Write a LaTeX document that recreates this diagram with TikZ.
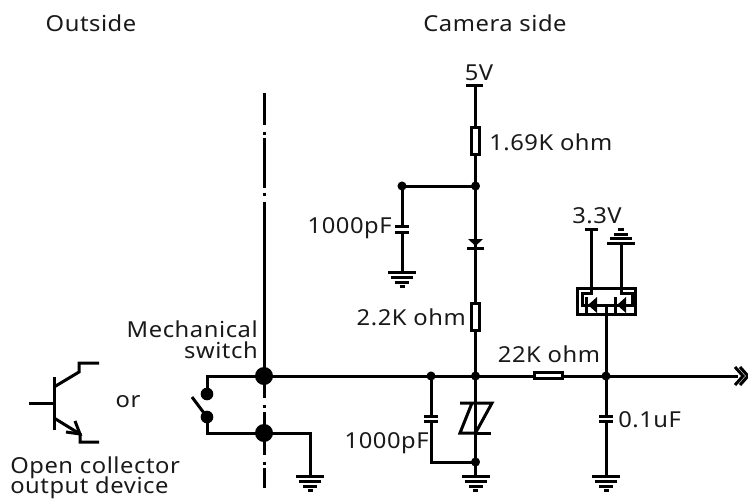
\documentclass[tikz,border=0pt]{standalone}
\usepackage{fontspec}
\setmainfont[FakeStretch=1.08,LetterSpace=2.5]{Noto Sans}
\usetikzlibrary{calc}
\tikzset{
  x=0.75pt,y=-0.75pt,
  wire/.style={line width=2.25pt,line cap=butt,line join=miter},
  dot/.style={circle,fill=black,inner sep=0pt,minimum size=6.8pt},
  swdot/.style={circle,fill=black,inner sep=0pt,minimum size=9.5pt},
  bigdot/.style={circle,fill=black,inner sep=0pt,minimum size=13.5pt},
  res/.style={draw,fill=white,line width=2.25pt,inner sep=0pt},
  lab/.style={inner sep=0pt,font=\fontsize{16.5}{17}\selectfont,text=black!90},
  pics/gnd/.style={code={
    \draw[line width=2.25pt] (-14,0)--(14,0) (-11,5)--(11,5) (-7,10)--(7,10) (-2.5,14)--(2.5,14);
  }}
}
\begin{document}
\begin{tikzpicture}
\useasboundingbox (0,0) rectangle (748,500);
% labels
\node[lab,anchor=base] (outside) at (91,31) {Outside};
\node[lab,anchor=base] (camera) at (495,31) {Camera side};
\node[lab,anchor=base] (v5) at (479,80) {5V};
\node[lab,anchor=base west] (r1l) at (489,150) {1.69K ohm};
\node[lab,anchor=base east] (c1l) at (392,233) {1000pF};
\node[lab,anchor=base] (v33) at (597,223) {3.3V};
\node[lab,anchor=base east] (r2l) at (466,325) {2.2K ohm};
\node[lab,anchor=base east] (mech) at (258,337) {Mechanical};
\node[lab,anchor=base east] (swl) at (258,358) {switch};
\node[lab,anchor=base] (r3l) at (549,362) {22K ohm};
\node[lab,anchor=base] (orl) at (128,407) {or};
\node[lab,anchor=base east] (c2l) at (429,448) {1000pF};
\node[lab,anchor=base west] (c3l) at (618,427) {0.1uF};
\node[lab,anchor=base west] (ocl) at (10,473) {Open collector};
\node[lab,anchor=base west] (odl) at (10,493.5) {output device};
% separator
\draw[wire] (264,93)--(264,125) (264,131.5)--(264,134.5) (264,138)--(264,188)
  (264,192.5)--(264,195.5) (264,202)--(264,398) (264,404.5)--(264,407.5)
  (264,412)--(264,455) (264,461.5)--(264,464.5) (264,468)--(264,488);
% junctions
\node[bigdot] (J1) at (264,376) {};
\node[bigdot] (J2) at (264,433) {};
\node[swdot] (S1) at (207,394) {};
\node[swdot] (S2) at (207,417) {};
\node[dot] (A) at (431,376) {};
\node[dot] (B) at (475.5,376) {};
\node[dot] (C) at (606,376) {};
\node[dot] (D) at (475.5,186) {};
\node[dot] (E) at (402,186) {};
\node[dot] (F) at (475.5,462) {};
\coordinate (endR) at (738,376);
% main wires
\draw[wire] (S1.center)|-(J1.center);
\draw[wire] (J1.center)--(A.center)--(B.center)--(C.center)--(endR);
\draw[wire] (S2.center)|-(J2.center);
\draw[wire] (J2.center)-|(310,476);
\pic at (310,476) {gnd};
\draw[wire] (192,397)--(S2.center);
% arrow end
\draw[wire] (735,367)--(743,376)--(735,385) (740,367)--(748,376)--(740,385);
% transistor
\draw[wire] (54,377)--(54,430) (29,403)--(54,403);
\draw[wire] (54,387)--(79,372)--(79,363)--(99,363);
\draw[wire] (54,418)--(80,434)--(80,442)--(99,442);
\draw[wire] (75,421)--(80,434)--(66,432);
% 5V branch
\coordinate (V5) at (475.5,85);
\draw[wire] (466,85)--(483,85);
\draw[wire] (V5)--(475.5,126);
\node[res,minimum width=6pt,minimum height=20pt] (R1) at (475.5,141) {};
\draw[wire] (R1)--(D.center);
\draw[wire] (E.center)--(D.center);
\draw[wire] (D.center)--(475.5,248);
\fill (468,239)--(483,239)--(475.5,246)--cycle;
\draw[wire] (467,248)--(484,248);
\node[res,minimum width=6pt,minimum height=20pt] (R2) at (475.5,317) {};
\draw[wire] (475.5,248)--(R2);
\draw[wire] (R2)--(B.center);
\draw[wire] (B.center)--(F.center)--(475.5,476);
\pic at (475.5,476) {gnd};
\draw[wire] (460,403)--(492,403)--(475.5,433)--(460,433)--(472,403);
\draw[wire] (475.5,433)--(491,433);
% left cap
\draw[wire] (E.center)--(402,226) (402,232)--(402,272);
\draw[wire] (395,226)--(409,226) (395,232)--(409,232);
\pic at (402,272) {gnd};
% 1000pF cap
\draw[wire] (A.center)--(431,416) (431,421)--(431,462)--(F.center);
\draw[wire] (424,416)--(438,416) (424,421)--(438,421);
% 22K
\node[res,minimum width=21pt,minimum height=4.5pt] (R3) at (548.5,375) {};
% 0.1uF
\draw[wire] (C.center)--(606,416) (606,421)--(606,476);
\draw[wire] (599,416)--(613,416) (599,421)--(613,421);
\pic at (606,476) {gnd};
% protection
\node[draw,line width=2.25pt,minimum width=43pt,minimum height=19.5pt,inner sep=0pt] (P) at (606.5,301.5) {};
\draw[wire] (C.center)--(606,305);
\draw[wire] (585,229)--(598,229) (591,229)--(591,293)--(582,293)--(582,305)--(632,305)--(632,293)--(621,293)--(621,243);
\draw[wire] (586,297)--(586,313) (615,297)--(615,313);
\fill (588,305)--(597,297)--(597,313)--cycle;
\fill (617,305)--(626,297)--(626,313)--cycle;
\draw[line width=2.25pt] (607,243)--(635,243) (610,238)--(632,238) (614,234)--(628,234) (618,229)--(624,229);
\end{tikzpicture}
\end{document}
